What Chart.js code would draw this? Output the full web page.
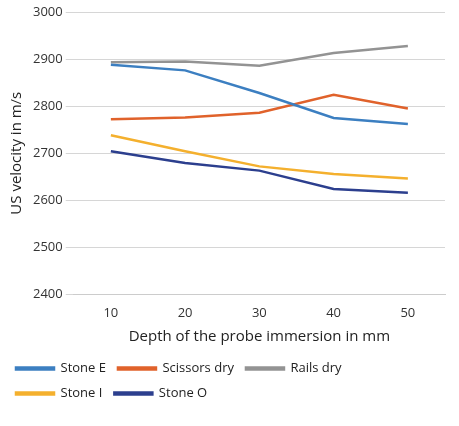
<!DOCTYPE html>
<html><head><script src="https://cdn.jsdelivr.net/npm/chart.js@4"></script>
<style>body{margin:0;background:#fff}#w{width:459px;height:426px}</style></head>
<body><div id="w"><canvas id="c"></canvas></div>
<script>
const depths=["10","20","30","40","50"];
const stoneE=[2888,2876,2828,2775,2762];
const scissorsDry=[2772,2776,2786,2824,2795];
const railsDry=[2893,2895,2886,2913,2928];
const stoneI=[2738,2704,2672,2656,2646];
const stoneO=[2704,2679,2663,2624,2616];
const mk=(l,d,c)=>({label:l,data:d,borderColor:c,backgroundColor:c,borderWidth:2.5,pointRadius:0,tension:0});
new Chart(document.getElementById('c'),{type:'line',
data:{labels:depths,datasets:[mk('Stone E',stoneE,'#3C7FC1'),mk('Scissors dry',scissorsDry,'#E0622B'),mk('Rails dry',railsDry,'#939393'),mk('Stone I',stoneI,'#F4B02E'),mk('Stone O',stoneO,'#2C3F8E')]},
options:{responsive:true,maintainAspectRatio:false,animation:false,
layout:{padding:{left:4,right:14,top:12,bottom:16}},
plugins:{legend:{position:'bottom',align:'start',labels:{boxWidth:38,boxHeight:2,font:{family:'Open Sans',size:13},color:'#222',padding:12}}},
scales:{x:{offset:true,grid:{display:false},border:{color:'#ccc'},title:{display:true,text:'Depth of the probe immersion in mm',font:{family:'Open Sans',size:15},color:'#222'},ticks:{font:{family:'Open Sans',size:13},color:'#333'}},
y:{min:2400,max:3000,ticks:{stepSize:100,callback:v=>String(v),font:{family:'Open Sans',size:13},color:'#333'},grid:{color:'#d6d6d6'},border:{display:false},title:{display:true,text:'US velocity in m/s',font:{family:'Open Sans',size:15},color:'#222'}}}}});
</script></body></html>
